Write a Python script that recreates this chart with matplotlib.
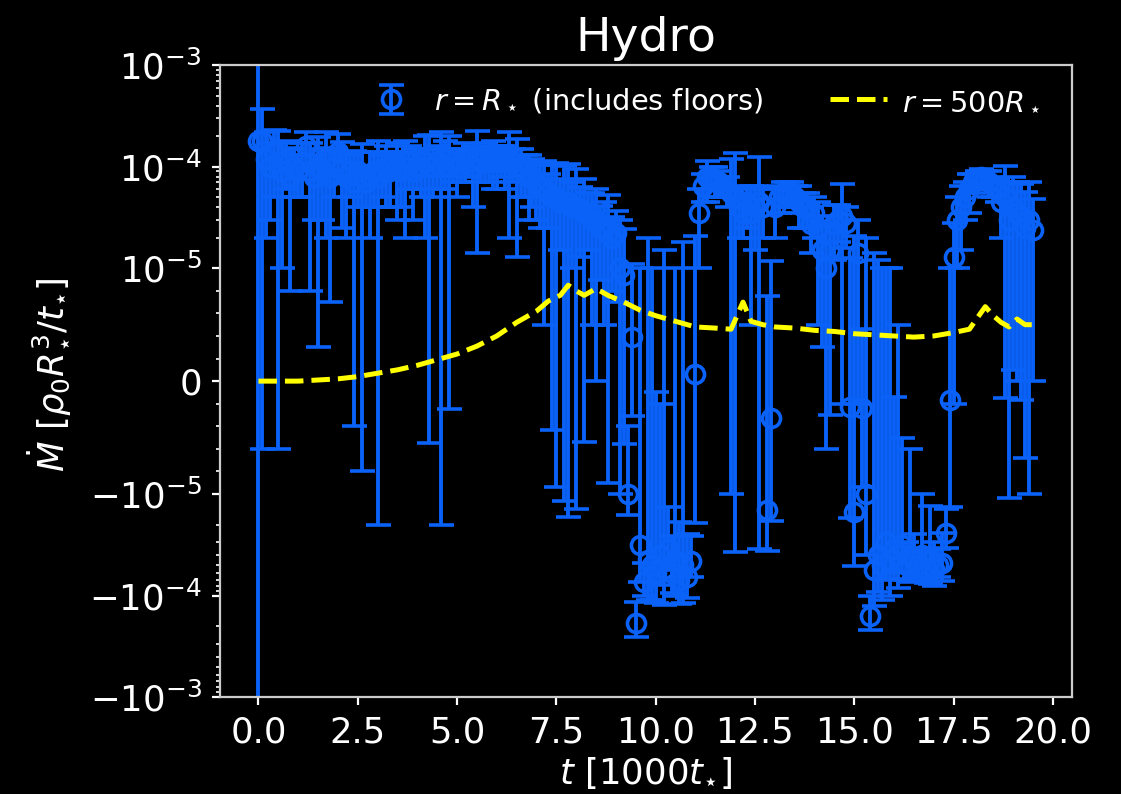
import numpy as np
import matplotlib.pyplot as plt
from matplotlib.ticker import FixedLocator, MultipleLocator, FormatStrFormatter

# Mass flux through r = R_star, in units of 1e-5 rho0 R_star^3 / t_star.
# One sample every 0.1 (in 1000 t_star), starting at t = 0.
mdot_inner = [
    18, 18, 12, 10, 14, 11, 9, 12, 8, 10,                    # 0.0 - 0.9
    9, 11, 16, 9, 8, 10, 9, 12, 8, 10,                       # 1.0
    14, 10, 8, 9, 7, 9, 8, 7, 8, 9,                          # 2.0
    8, 9, 10, 9, 11, 10, 9, 10, 11, 9,                       # 3.0
    10, 10, 11, 10, 10, 11, 10, 12, 10, 11,                  # 4.0
    10, 11, 12, 11, 10, 12, 11, 12, 11, 12,                  # 5.0
    11, 12, 11, 12, 11, 10, 10, 9, 8, 8,                     # 6.0
    7, 6.5, 6, 5.5, 5, 5, 4.5, 4.5, 4.5, 4,                  # 7.0
    4, 3.8, 3.5, 3.5, 3, 3, 2.5, 2.5, 2.2, 2,                # 8.0
    2.2, 1.0, 0.94, -1.0, 0.39, -18.6, -3.2, -7.4, -4.5, -5,  # 9.0
    -6, -4, -5.5, -3.5, -6, -4.5, -7, -5, -6.5, -4.6,        # 10.0
    0.06, 3.5, 6.5, 8, 8, 7.5, 7, 6.5, 6, 5.5,               # 11.0
    5, 4, 3.5, 4.5, 3.5, 4, 4.5, 4, -1.45, -0.33,            # 12.0
    4, 5, 5.5, 5.5, 5.5, 5, 4.5, 4, 4, 2.7,                  # 13.0
    3.5, 2.5, 1.5, 1.0, 1.5, 2.7, 3, 3.3, 2.8, -0.23,        # 14.0
    -1.5, 1.4, -0.24, -1.0, -16, -5.6, -4, -5, -3, -4.5,     # 15.0
    -3.5, -4, -3.2, -5, -4, -4.5, -5, -4, -5.5, -4.5,        # 16.0
    -5.5, -5, -4.8, -2.4, -0.17, 1.3, 3, 4, 5, 6,            # 17.0
    7, 7.5, 8, 7.5, 7, 6.5, 6, 4.5, 5, 3,                    # 18.0
    4, 3.5, 3.3, 2.5, 3, 2.4,                                # 19.0 - 19.5
]
mdot_inner_err = [
    600, 18.6, 10, 7, 9, 11.6, 8, 6, 7.2, 5,
    4, 6, 6, 8.2, 5, 9.7, 6, 10, 7.3, 5,
    7, 7.5, 6, 4, 7.4, 5, 8.8, 3, 6, 5,
    10, 4, 6, 5, 3, 7, 5, 8, 5, 6,
    4, 5, 9, 10.55, 5, 5, 12, 6, 10.25, 4,
    5, 4, 5, 3, 6, 10.6, 4, 5, 4, 6,
    5, 4, 5, 10, 4, 8.7, 5, 4, 5, 4,
    4, 4, 5.5, 3, 5.43, 5.94, 3, 5.67, 6.2, 3,
    5.4, 2.5, 4.04, 2, 2.5, 3, 1.6, 2, 3.1, 1.2,
    1.5, 2.0, 1.5, 0.6, 0.7, 7, 4.2, 2.6, 6.5, 6,
    5.9, 3.8, 7, 2.15, 3.4, 5.5, 5.1, 6.8, 4, 2,
    2.0, 2.5, 2, 3.5, 2, 2.5, 2, 1.5, 2, 6.5,
    8.7, 2, 1.5, 2, 3, 2.5, 8, 2, 2.2, 1.5,
    2, 1.5, 1.5, 1.5, 1.5, 1.5, 2, 1.5, 1.5, 1.3,
    1.5, 2, 1.2, 1.6, 1.8, 1.5, 1.2, 3.5, 1.2, 1.5,
    3.6, 1.6, 0.7, 3.0, 6, 7, 5.2, 6, 4, 5.5,
    3.36, 4.5, 2.7, 2, 3.4, 2, 1.5, 3, 2, 3.2,
    2.5, 1.5, 2.4, 1.0, 1.17, 1.5, 2, 2.5, 2, 2.5,
    1.5, 1.5, 1.5, 1.5, 2, 1.5, 1.5, 2.5, 5.15, 4.1,
    3.9, 3.5, 3.47, 3.18, 4, 2.4,
]
t_inner = np.arange(len(mdot_inner)) * 0.1

# Mass flux through r = 500 R_star (same units)
t_outer = [0.0, 0.5, 1.0, 1.5, 2.0, 2.5, 3.0, 3.5, 4.0, 4.5, 5.0, 5.5, 6.0,
           6.5, 7.0, 7.3, 7.6, 7.8, 8.0, 8.2, 8.5, 8.8, 9.2, 9.6, 10.0, 10.5,
           11.0, 11.5, 11.9, 12.1, 12.2, 12.4, 12.7, 13.0, 13.5, 14.0, 14.5,
           15.0, 15.5, 16.0, 16.5, 17.0, 17.5, 17.9, 18.1, 18.3, 18.5, 18.7,
           18.9, 19.1, 19.3, 19.5]
mdot_outer = [0.0, 0.0, 0.0, 0.01, 0.02, 0.04, 0.07, 0.10, 0.14, 0.19, 0.24,
              0.31, 0.40, 0.52, 0.62, 0.71, 0.76, 0.85, 0.80, 0.76, 0.82,
              0.76, 0.70, 0.63, 0.58, 0.53, 0.48, 0.47, 0.46, 0.62, 0.70,
              0.53, 0.50, 0.48, 0.47, 0.45, 0.44, 0.42, 0.41, 0.40, 0.39,
              0.40, 0.43, 0.46, 0.56, 0.66, 0.58, 0.52, 0.48, 0.55, 0.50,
              0.50]

UNIT = 1e-5
BLUE = '#0a62f8'

fig = plt.figure(figsize=(5.605, 3.97), dpi=200, facecolor='black')
ax = fig.add_axes([0.196, 0.122, 0.760, 0.796])
ax.set_facecolor('black')

eb = ax.errorbar(t_inner, np.array(mdot_inner) * UNIT,
                 yerr=np.array(mdot_inner_err) * UNIT,
                 fmt='o', color=BLUE, mfc='none', mec=BLUE, ms=6.5, mew=1.3,
                 elinewidth=1.4, capsize=4.5, capthick=1.3,
                 label=r'$r = R_\star$ (includes floors)')
ln, = ax.plot(t_outer, np.array(mdot_outer) * UNIT, '--', color='#ffff00',
              lw=1.8, label=r'$r = 500R_\star$')

ax.set_yscale('symlog', linthresh=1e-5)
ax.set_ylim(-1e-3, 1e-3)

minor = []
for dec in (1e-5, 1e-4):
    for k in range(2, 10):
        minor += [k * dec, -k * dec]
for k in (2, 4, 6, 8):
    minor += [k * 1e-6, -k * 1e-6]
ax.yaxis.set_minor_locator(FixedLocator(minor))

ax.xaxis.set_major_locator(MultipleLocator(2.5))
ax.xaxis.set_major_formatter(FormatStrFormatter('%.1f'))

for s in ax.spines.values():
    s.set_color('#cccccc')
    s.set_linewidth(0.8)
ax.tick_params(which='both', colors='white', labelsize=12.8)
ax.tick_params(which='major', length=3, width=0.8)
ax.tick_params(which='minor', length=1.5, width=0.6)

ax.set_title('Hydro', color='white', fontsize=17, pad=5)
ax.set_xlabel(r'$t\ [1000t_{\star}]$', color='white', fontsize=12.8,
              labelpad=2)
ax.set_ylabel(r'$\dot{M}\ [\rho_0 R_{\star}^3/t_{\star}]$', color='white',
              fontsize=12.8)
ax.yaxis.set_label_coords(-0.174, 0.51)

ax.legend(handles=[eb, ln], loc='center', bbox_to_anchor=(0.565, 0.943),
          ncol=2, frameon=False, fontsize=10.4, labelcolor='white',
          handletextpad=0.5, columnspacing=2.3)

fig.savefig('out.png', dpi=200, facecolor='black')
